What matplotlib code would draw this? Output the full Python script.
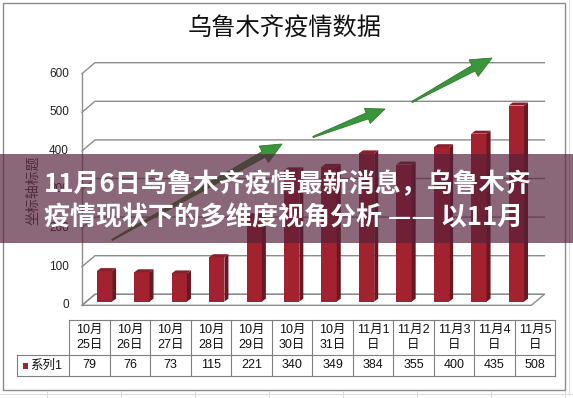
import matplotlib
matplotlib.use("Agg")
import matplotlib.pyplot as plt
from matplotlib.lines import Line2D
from matplotlib.patches import Polygon, Rectangle
from matplotlib.transforms import Affine2D
import numpy as np

plt.rcParams["font.family"] = ["Liberation Sans", "Noto Sans CJK SC"]
CJK = ["Noto Sans CJK SC", "DejaVu Sans"]

# ── data ──
TITLE = "乌鲁木齐疫情数据"
AXIS_TITLE = "坐标轴标题"
SERIES = "系列1"
DATES = ["10月\n25日", "10月\n26日", "10月\n27日", "10月\n28日", "10月\n29日",
         "10月\n30日", "10月\n31日", "11月1\n日", "11月2\n日", "11月3\n日",
         "11月4\n日", "11月5\n日"]
CASES = [79, 76, 73, 115, 221, 340, 349, 384, 355, 400, 435, 508]
YTICKS = [0, 100, 200, 300, 400, 500, 600]
BANNER = ["11月6日乌鲁木齐疫情最新消息，乌鲁木齐",
          "疫情现状下的多维度视角分析 —— 以11月"]

W, H = 573, 398
FRONT, SIDE, TOP = "#a3222f", "#6b1620", "#86202b"
GRID = "#8c8c8c"
ARROW, ARROW_EDGE = "#3a963a", "#2c7a2c"

fig = plt.figure(figsize=(W / 100, H / 100), dpi=100)
fig.patch.set_facecolor("white")
PIX = Affine2D().scale(1, -1).translate(0, H)   # screenshot pixels (y down) -> display

# ── sheet grid + chart border ──
for x in np.arange(46.7, W, 74):
    fig.add_artist(Line2D([x, x], [391, H], color="#dcdcdc", lw=0.8, transform=PIX))
fig.add_artist(Line2D([0, W], [394, 394], color="#dcdcdc", lw=0.8, transform=PIX))
fig.add_artist(Line2D([569, 569], [0, 394], color="#dcdcdc", lw=0.8, transform=PIX))
fig.add_artist(Rectangle((3, 3), 562, 387, transform=PIX, fill=False,
                         ec="#8a8a8a", lw=1.0, zorder=0.5))

# ── plot axes: front face of the bars ──
BX0, BX1 = 85.7, 535.1
BY0, BY1 = 301.6, 70.0
ax = fig.add_axes([BX0 / W, 1 - BY0 / H, (BX1 - BX0) / W, (BY0 - BY1) / H])
n = len(CASES)
ax.set_xlim(-0.5, n - 0.5)
ax.set_ylim(0, 600)
ax.axis("off")
sx = (BX1 - BX0) / n
sy = (BY0 - BY1) / 600


def d(px, py):
    """pixel offset -> data offset (py upward)"""
    return px / sx, py / sy


x0, x1 = -0.5, n - 0.5
fx, fy = d(-3.7, -3.7)      # front plane of the walls
bx, by = d(9.3, 7.3)        # back wall

ax.add_patch(Polygon([(x0 + fx, fy), (x1 + fx, fy), (x1 + bx, by), (x0 + bx, by)],
                     closed=True, fc="white", ec=GRID, lw=1, clip_on=False, zorder=1))
for v in YTICKS:
    ax.plot([x0 + fx, x0 + bx, x1 + bx], [v + fy, v + by, v + by],
            color=GRID, lw=1, clip_on=False, zorder=1)
    ax.text(x0 + fx - 13 / sx, v + fy, str(v), ha="right", va="center",
            fontsize=8.5, color="#222222")
ax.plot([x0 + fx, x0 + fx], [fy, 600 + fy], color=GRID, lw=1, clip_on=False, zorder=1)

# bars with a bit of depth
bw = 15.3 / sx
ddx, ddy = d(4, 3)
xs = np.arange(n)
ax.bar(xs, CASES, width=bw, color=FRONT, zorder=3, linewidth=0)
for i, v in zip(xs, CASES):
    xl, xr = i - bw / 2, i + bw / 2
    ax.add_patch(Polygon([(xr, 0), (xr + ddx, ddy), (xr + ddx, v + ddy), (xr, v)],
                         fc=SIDE, lw=0, clip_on=False, zorder=3))
    ax.add_patch(Polygon([(xl, v), (xr, v), (xr + ddx, v + ddy), (xl + ddx, v + ddy)],
                         fc=TOP, lw=0, clip_on=False, zorder=3))

# ── titles ──
fig.text(285, 28, TITLE, transform=PIX, ha="center", va="center",
         fontsize=17.5, family=CJK, color="#111111")
fig.text(33, 190, AXIS_TITLE, transform=PIX, ha="center", va="center",
         rotation=90, fontsize=10, family=CJK, color="#404040")

# ── data table ──
TL, TC, TR = 17.3, 69.3, 555.3
tab = fig.add_axes([TL / W, 1 - 376 / H, (TR - TL) / W, (376 - 320) / H])
cw = (TR - TC) / n
hx = -(TC - TL) / cw
tab.set_xlim(hx, n)
tab.set_ylim(0, 56)
tab.axis("off")
lc = dict(color="#7f7f7f", lw=0.8, clip_on=False)
tab.plot([0, n], [56, 56], **lc)
tab.plot([hx, n], [21, 21], **lc)
tab.plot([hx, n], [0, 0], **lc)
tab.plot([hx, hx], [0, 21], **lc)
for k in range(n + 1):
    tab.plot([k, k], [0, 56], **lc)
for k, (lab, v) in enumerate(zip(DATES, CASES)):
    tab.text(k + 0.5, 38.5, lab, ha="center", va="center", fontsize=9,
             linespacing=1.3, color="#111111")
    tab.text(k + 0.5, 10.5, str(v), ha="center", va="center", fontsize=9,
             color="#111111")
tab.add_patch(Rectangle(((22.7 - TC) / cw, 7), 5.5 / cw, 6, fc=FRONT, lw=0))
tab.text((30.5 - TC) / cw, 10.5, SERIES, ha="left", va="center", fontsize=9,
         color="#111111")


# ── green trend arrows ──
def arrow(tail, head, hl=21, hw=9.5, sw=3.2):
    t, h = np.array(tail, float), np.array(head, float)
    u = (h - t) / np.linalg.norm(h - t)
    nv = np.array([-u[1], u[0]])
    b = h - u * hl
    pts = [t + nv * 0.6, b + nv * sw, b + nv * hw, h,
           b - nv * hw, b - nv * sw, t - nv * 0.6]
    fig.add_artist(Polygon(pts, closed=True, transform=PIX, fc=ARROW,
                           ec=ARROW_EDGE, lw=0.6, zorder=5))


arrow((112, 240), (282, 144))
arrow((313, 137), (385, 109), hl=19, hw=8)
arrow((412, 102), (492, 58))

# ── overlay banner ──
fig.add_artist(Rectangle((0, 154), W, 89, transform=PIX, fc="#55203a",
                         alpha=0.68, lw=0, zorder=10))
for k, line in enumerate(BANNER):
    fig.text(44, 185 + 33 * k, line, transform=PIX, ha="left", va="center",
             fontsize=18.7, fontweight="bold", family=CJK, color="white", zorder=11)

fig.savefig("out.png", dpi=100, facecolor="white")
